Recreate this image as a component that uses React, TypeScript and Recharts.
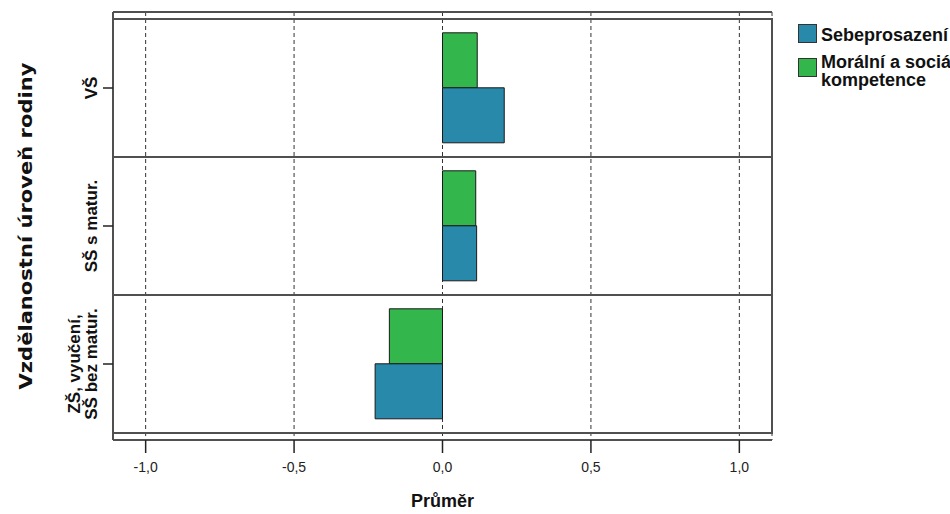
import React from 'react';
import { BarChart, Bar, XAxis, YAxis, ReferenceArea, CartesianGrid } from 'recharts';

// ---- data ----
const categories = ['VŠ', 'SŠ s matur.', 'ZŠ, vyučení,\nSŠ bez matur.'];
const seriesNames = ['Sebeprosazení', 'Morální a sociální kompetence'];
const sebeprosazeni = [0.208, 0.115, -0.227];
const moralni = [0.117, 0.112, -0.179];
const xTicks = [-1, -0.5, 0, 0.5, 1];
const xDomain: [number, number] = [-1.11, 1.11];
const xTitle = 'Průměr';
const yTitle = 'Vzdělanostní úroveň rodiny';

const BLUE = '#2889aa';
const GREEN = '#33b64b';
const FONT = '"Liberation Sans", Arial, sans-serif';
const FRAME = '#505050';

const data = categories.map((c, i) => ({ cat: c, sebe: sebeprosazeni[i], moral: moralni[i] }));

const fmt = (v: number) => v.toFixed(1).replace('.', ',');

const XTick = (props: any) => {
  const { x, y, payload } = props;
  return (
    <g>
      <line x1={x} x2={x} y1={y} y2={y + 13} stroke="#222" strokeWidth={1.5} />
      <text x={x} y={y + 32} textAnchor="middle" fontSize={14} fontFamily={FONT} fill="#222">
        {fmt(payload.value)}
      </text>
    </g>
  );
};

const YTick = (props: any) => {
  const { x, y, payload } = props;
  const lines = String(payload.value).split('\n');
  const n = lines.length;
  return (
    <g>
      <line x1={x - 10} x2={x} y1={y} y2={y} stroke="#222" strokeWidth={1.5} />
      {lines.map((l, i) => (
        <text
          key={i}
          transform={`translate(${x - 16 - (n - 1 - i) * 17},${y}) rotate(-90)`}
          textAnchor="middle"
          fontSize={17}
          fontWeight="bold"
          fontFamily={FONT}
          fill="#111"
        >
          {l}
        </text>
      ))}
    </g>
  );
};

const YTitle = (props: any) => {
  const vb = props.viewBox;
  const cx = vb.x + 32;
  const cy = vb.y + vb.height / 2;
  return (
    <text
      transform={`translate(${cx},${cy}) rotate(-90)`}
      textAnchor="middle"
      fontSize={18}
      fontWeight="bold"
      fontFamily='"DejaVu Sans", Verdana, sans-serif'
      fill="#111"
      textLength={327}
      lengthAdjust="spacingAndGlyphs"
    >
      {yTitle}
    </text>
  );
};

const XTitle = (props: any) => {
  const vb = props.viewBox;
  return (
    <text x={vb.x + vb.width / 2} y={vb.y + 67} textAnchor="middle" fontSize={18} fontWeight="bold" fontFamily={FONT} fill="#111">
      {xTitle}
    </text>
  );
};

export default function App() {
  return (
    <div style={{ position: 'absolute', left: 0, top: 0, width: 950, height: 514, overflow: 'hidden', background: '#fff' }}>
      <BarChart
        width={950}
        height={514}
        data={data}
        layout="vertical"
        margin={{ top: 11, right: 178, bottom: 0, left: 0 }}
        barCategoryGap="10%"
        barGap={0}
      >
        <CartesianGrid horizontal={false} stroke="#333" strokeDasharray="4 3" />
        <XAxis
          type="number"
          domain={xDomain}
          ticks={xTicks}
          allowDataOverflow
          axisLine={{ stroke: FRAME, strokeWidth: 2 }}
          tickLine={false}
          tickSize={0}
          tickMargin={0}
          height={74}
          tick={<XTick />}
          interval={0}
          label={<XTitle />}
        />
        <XAxis
          xAxisId="top"
          orientation="top"
          type="number"
          domain={xDomain}
          ticks={xTicks}
          allowDataOverflow
          axisLine={{ stroke: FRAME, strokeWidth: 2 }}
          tick={false}
          tickLine={false}
          tickSize={0}
          height={1}
        />
        <YAxis
          yAxisId="cat"
          type="category"
          dataKey="cat"
          width={113}
          padding={{ top: 7, bottom: 7 }}
          axisLine={{ stroke: FRAME, strokeWidth: 2 }}
          tickLine={false}
          tickSize={0}
          tickMargin={0}
          tick={<YTick />}
          interval={0}
          label={<YTitle />}
        />
        <YAxis
          yAxisId="right"
          orientation="right"
          type="category"
          dataKey="cat"
          width={0}
          padding={{ top: 7, bottom: 7 }}
          axisLine={{ stroke: FRAME, strokeWidth: 2 }}
          tick={false}
          tickLine={false}
        />

        <Bar yAxisId="cat" dataKey="moral" name={seriesNames[1]} fill={GREEN} stroke="#1a1a1a" strokeWidth={1} isAnimationActive={false} />
        <Bar yAxisId="cat" dataKey="sebe" name={seriesNames[0]} fill={BLUE} stroke="#1a1a1a" strokeWidth={1} isAnimationActive={false} />

        {categories.map((c) => (
          <ReferenceArea
            key={c}
            yAxisId="cat"
            y1={c}
            y2={c}
            x1={xDomain[0]}
            x2={xDomain[1]}
            fill="none"
            fillOpacity={0}
            stroke={FRAME}
            strokeWidth={2}
            ifOverflow="visible"
          />
        ))}
      </BarChart>

      {/* legend */}
      <div style={{ position: 'absolute', left: 798, top: 24, width: 17, height: 17, background: BLUE, border: '1.5px solid #333' }} />
      <div style={{ position: 'absolute', left: 821, top: 26, fontFamily: FONT, fontWeight: 'bold', fontSize: 18, lineHeight: '18px', whiteSpace: 'nowrap', color: '#111' }}>
        {seriesNames[0]}
      </div>
      <div style={{ position: 'absolute', left: 798, top: 58, width: 17, height: 17, background: GREEN, border: '1.5px solid #333' }} />
      <div style={{ position: 'absolute', left: 821, top: 53, fontFamily: FONT, fontWeight: 'bold', fontSize: 18, lineHeight: '18px', whiteSpace: 'nowrap', color: '#111' }}>
        Morální a sociální
        <br />
        kompetence
      </div>
    </div>
  );
}
